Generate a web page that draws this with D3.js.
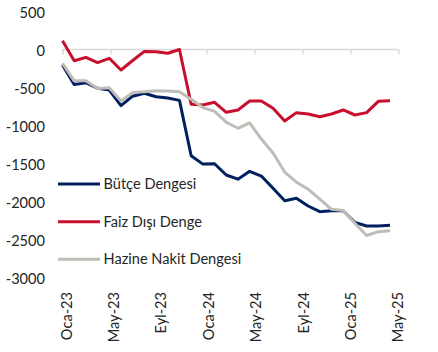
<!DOCTYPE html>
<html><head><meta charset="utf-8">
<script src="https://cdn.jsdelivr.net/npm/d3@7"></script>
<style>html,body{margin:0;padding:0;background:#fff;}svg{display:block;}</style>
</head><body>
<svg id="c" width="438" height="352"></svg>
<script>
const months = ["Oca-23","Şub-23","Mar-23","Nis-23","May-23","Haz-23","Tem-23","Ağu-23","Eyl-23","Eki-23","Kas-23","Ara-23",
  "Oca-24","Şub-24","Mar-24","Nis-24","May-24","Haz-24","Tem-24","Ağu-24","Eyl-24","Eki-24","Kas-24","Ara-24",
  "Oca-25","Şub-25","Mar-25","Nis-25","May-25"];
const tickLabels = ["Oca-23","May-23","Eyl-23","Oca-24","May-24","Eyl-24","Oca-25","May-25"];
const yTicks = [500,0,-500,-1000,-1500,-2000,-2500,-3000];
const seriesNames = ["Bütçe Dengesi","Faiz Dışı Denge","Hazine Nakit Dengesi"];
const butce = [-204,-460,-437,-511,-534,-740,-615,-577,-622,-640,-670,-1400,-1510,-1505,-1653,-1708,-1605,-1667,-1829,-1992,-1961,-2062,-2137,-2124,-2124,-2277,-2325,-2325,-2316];
const faizDisi = [116,-148,-103,-174,-116,-270,-145,-25,-30,-50,0,-722,-731,-696,-827,-797,-679,-679,-775,-942,-832,-850,-885,-850,-797,-863,-832,-683,-675];
const hazine = [-182,-413,-413,-515,-505,-680,-565,-556,-543,-547,-556,-655,-765,-815,-958,-1038,-968,-1180,-1364,-1615,-1748,-1840,-1970,-2105,-2120,-2290,-2450,-2400,-2387];
const colors = ["#002060","#c8102e","#c0bcb7"];

const svg = d3.select("#c");
const font = "Lato, 'Liberation Sans', sans-serif";
const fs = 14.6;
const y = d3.scaleLinear().domain([500,-3000]).range([11.55,277.2]);
const x = d3.scalePoint().domain(months).range([62.5,390]);
const xTick = d3.scalePoint().domain(tickLabels).range([62.5,398.3]);
const xLab = d3.scalePoint().domain(tickLabels).range([66.5,398.3]);

// y labels
svg.append("g").selectAll("text").data(yTicks).join("text")
  .attr("x",45).attr("y",d=>y(d)+1.5).attr("dy","0.35em")
  .attr("text-anchor","end").attr("font-family",font).attr("font-size",fs).attr("fill","#262626")
  .text(d=>d);

// x axis at zero
const ax = svg.append("g").attr("transform",`translate(0,${y(0)})`)
  .call(d3.axisBottom(xTick).tickSize(5).tickSizeOuter(0).tickFormat(""));
ax.select(".domain").attr("stroke","#d9d9d9").attr("stroke-width",1.5)
  .attr("d",`M${xTick.range()[0]},0H${xTick.range()[1]}`);
ax.selectAll(".tick line").attr("stroke","#d9d9d9").attr("stroke-width",1.5);

// x labels (low position)
svg.append("g").selectAll("text").data(tickLabels).join("text")
  .attr("transform",d=>`translate(${xLab(d)},292) rotate(-90)`)
  .attr("dy","0.35em").attr("text-anchor","end")
  .attr("font-family",font).attr("font-size",fs).attr("fill","#262626")
  .text(d=>d);

// lines
const line = d3.line().x((d,i)=>x(months[i])).y(d=>y(d));
[butce,faizDisi,hazine].forEach((s,k)=>{
  svg.append("path").datum(s).attr("d",line).attr("fill","none")
    .attr("stroke",colors[k]).attr("stroke-width",3).attr("stroke-linejoin","round");
});

// legend
const legY = [184,221.7,259.3];
const lg = svg.append("g");
seriesNames.forEach((n,k)=>{
  lg.append("line").attr("x1",58).attr("x2",100).attr("y1",legY[k]).attr("y2",legY[k])
    .attr("stroke",colors[k]).attr("stroke-width",3);
  lg.append("text").attr("x",103.5).attr("y",legY[k]).attr("dy","0.35em")
    .attr("font-family",font).attr("font-size",fs).attr("fill","#262626").text(n);
});
</script>
</body></html>
